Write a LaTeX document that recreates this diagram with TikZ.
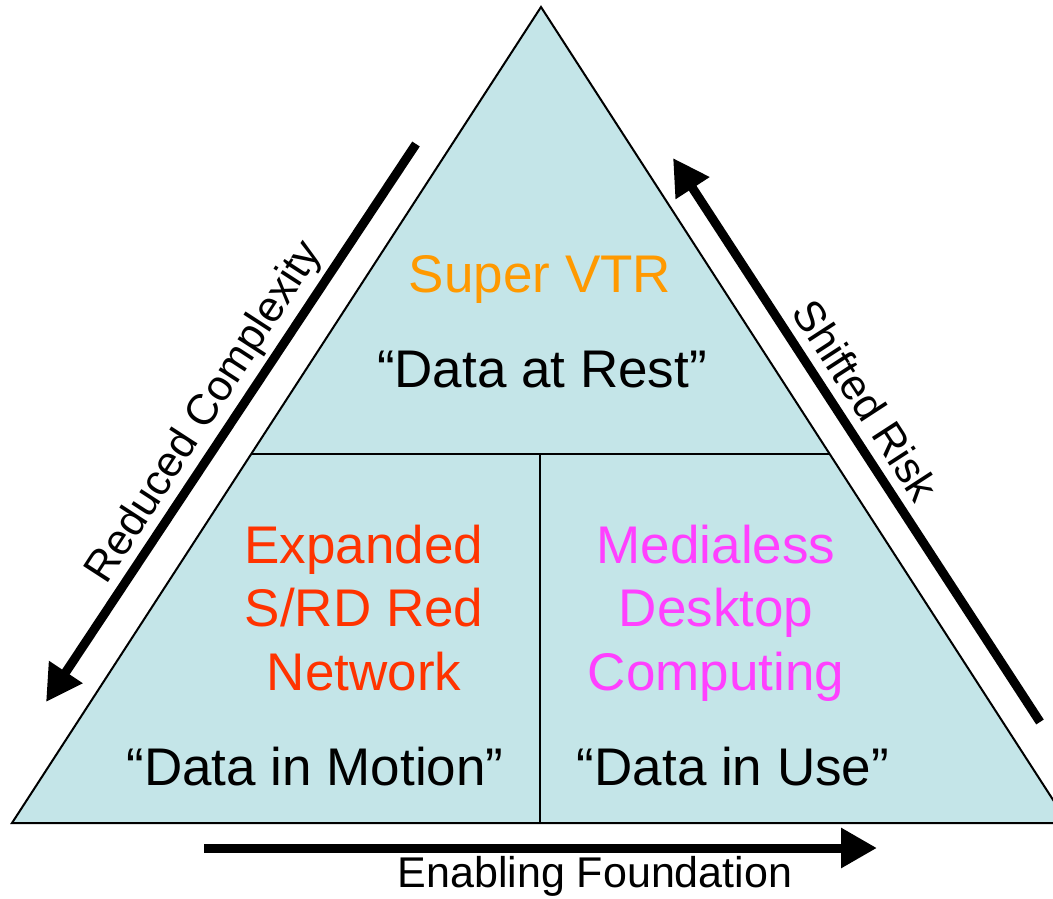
\documentclass[tikz,border=0pt]{standalone}
\usepackage{fontspec}
\setmainfont{Liberation Sans}
\usetikzlibrary{arrows.meta}

\definecolor{pyrfill}{RGB}{196,229,232}
\definecolor{vtrorange}{RGB}{255,153,0}
\definecolor{srdred}{RGB}{255,51,0}
\definecolor{mdcpink}{RGB}{255,64,255}

\tikzset{
  bigtext/.style={font=\fontsize{53}{63.5}\selectfont, align=center, anchor=base, inner sep=0pt},
  sidetext/.style={font=\fontsize{43}{50}\selectfont, inner sep=0pt},
  fatarrow/.style={line width=9pt, -{Triangle[length=36pt,width=38pt]}},
}

\begin{document}
\begin{tikzpicture}[x=1pt,y=-1pt]
      \useasboundingbox (0,0) rectangle (1053,899);
      % corners of the pyramid
      \coordinate (apex) at (541,7);
      \coordinate (bl) at (12,823);
      \coordinate (br) at (1068,823);
      \coordinate (ml) at (251,454);
      \coordinate (mr) at (830,454);
      \coordinate (mm) at (540,454);
      \coordinate (bm) at (540,823);
      \draw[line width=2pt, fill=pyrfill] (apex) -- (br) -- (bl) -- cycle;
      \draw[line width=2.5pt] (bl) -- (br);
      \draw[line width=1.5pt] (ml) -- (mr);
      \draw[line width=1.5pt] (mm) -- (bm);
      % texts (base of a block = base of its last line)
      \node[bigtext, text=vtrorange] (vtr) at (540,292) {Super VTR};
      \node[bigtext] (rest) at (542,387) {“Data at Rest”};
      \node[bigtext, text=srdred] (srd) at (364,690) {Expanded\\S/RD Red\\Network};
      \node[bigtext, text=mdcpink] (mdc) at (716,690) {Medialess\\Desktop\\Computing};
      \node[bigtext] (motion) at (315,785) {“Data in Motion”};
      \node[bigtext] (use) at (733,785) {“Data in Use”};
      \node[sidetext, rotate=57] (reduced) at (205,413) {Reduced Complexity};
      \node[sidetext, rotate=-57] (shifted) at (866,400) {Shifted Risk};
      \node[sidetext] (enabling) at (595,876) {Enabling Foundation};
      % side arrows
      \coordinate (rctail) at (416,144);
      \coordinate (rctip) at (46,702);
      \coordinate (srtail) at (1040,722);
      \coordinate (srtip) at (673,158);
      \coordinate (eftail) at (204,848);
      \coordinate (eftip) at (877,848);
      \begin{scope}[fatarrow]
        \draw (rctail) to (rctip);
        \draw (srtail) to (srtip);
        \draw (eftail) to (eftip);
      \end{scope}
    \end{tikzpicture}
\end{document}
